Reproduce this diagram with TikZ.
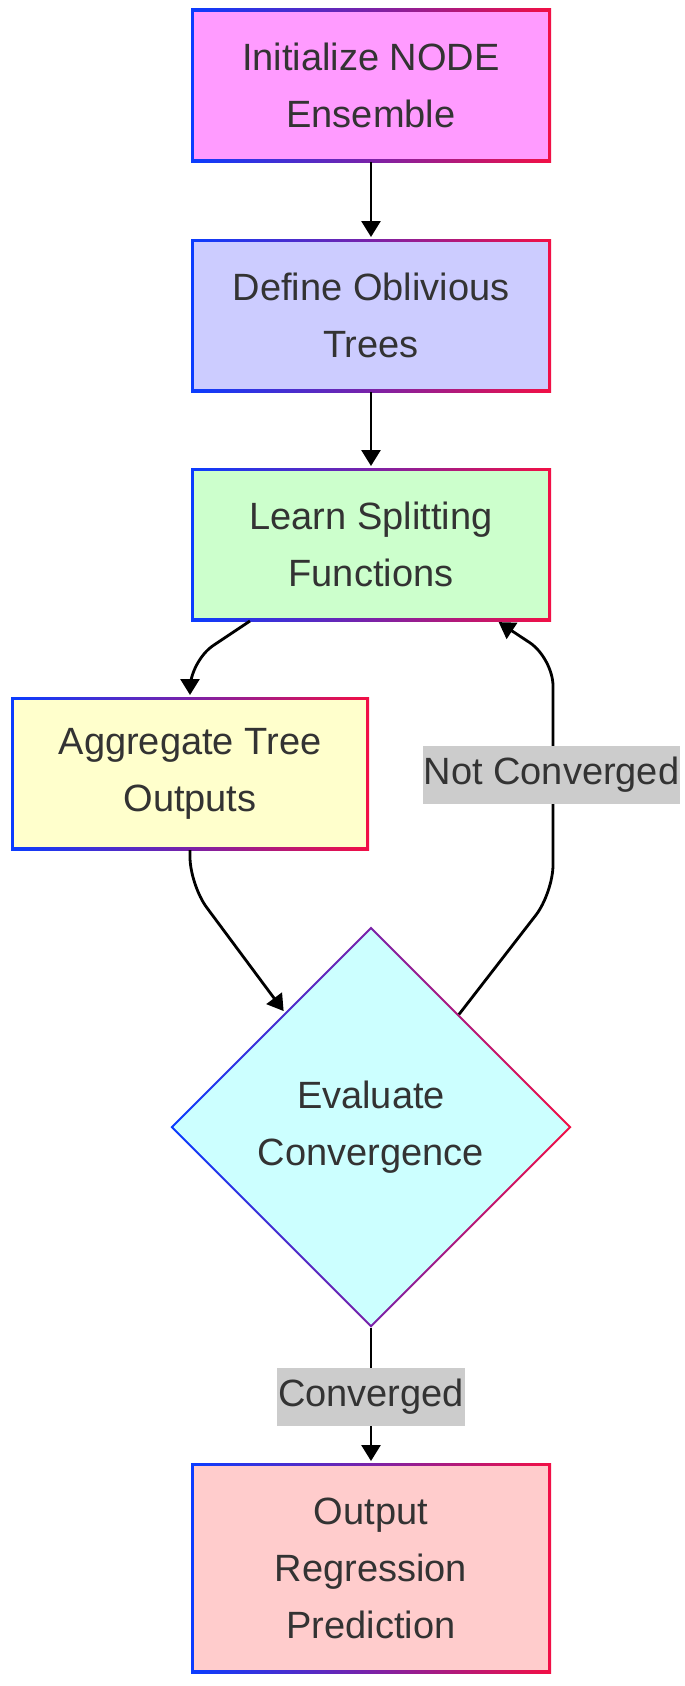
\documentclass[tikz,border=0pt]{standalone}
\usepackage{fontspec}
\setmainfont{Liberation Sans}
\usetikzlibrary{shapes.geometric,arrows.meta}
\definecolor{txt}{HTML}{333333}
\definecolor{gblue}{HTML}{0A3CFF}
\definecolor{gpurp}{HTML}{7A22A8}
\definecolor{gred}{HTML}{F20F45}
\definecolor{cA}{HTML}{FF9BFF}
\definecolor{cB}{HTML}{CCCCFF}
\definecolor{cC}{HTML}{CCFFCC}
\definecolor{cD}{HTML}{FFFFCC}
\definecolor{cE}{HTML}{CCFFFF}
\definecolor{cF}{HTML}{FFCCCC}
\definecolor{lbl}{HTML}{CCCCCC}
\begin{document}
\begin{tikzpicture}[x=1pt,y=-1pt,
  obox/.style={rectangle, draw=none, inner sep=0pt, outer sep=0pt,
    left color=gblue, right color=gred, middle color=gpurp},
  ibox/.style={rectangle, draw=none, inner sep=0pt, outer sep=0pt,
    align=center, text=txt, font=\fontsize{38}{57}\selectfont},
  odia/.style={diamond, aspect=1, draw=none, inner sep=0pt, outer sep=0pt,
    left color=gblue, right color=gred, middle color=gpurp},
  idia/.style={diamond, aspect=1, draw=none, inner sep=0pt, outer sep=0pt,
    align=center, text=txt, font=\fontsize{38}{57}\selectfont},
  elabel/.style={rectangle, fill=lbl, inner xsep=1pt, inner ysep=0pt,
    minimum height=58pt, text=txt, font=\fontsize{38}{46}\selectfont},
  arr/.style={draw=black, line width=2.8pt, shorten >=2pt,
    -{Triangle[length=16pt,width=19pt]}}
]
\useasboundingbox (0,0) rectangle (685,1686);

% Box 1
\node[obox, minimum width=360pt, minimum height=153pt] (b1) at (371,85.5) {};
\node[ibox, fill=cA, minimum width=354pt, minimum height=147pt] (b1t) at (b1) {Initialize NODE\\Ensemble};
% Box 2
\node[obox, minimum width=360pt, minimum height=153pt] (b2) at (371,315.5) {};
\node[ibox, fill=cB, minimum width=354pt, minimum height=147pt] (b2t) at (b2) {Define Oblivious\\Trees};
% Box 3
\node[obox, minimum width=360pt, minimum height=153pt] (b3) at (371,544.5) {};
\node[ibox, fill=cC, minimum width=354pt, minimum height=147pt] (b3t) at (b3) {Learn Splitting\\Functions};
% Box 4
\node[obox, minimum width=358pt, minimum height=153pt] (b4) at (190,773.5) {};
\node[ibox, fill=cD, minimum width=352pt, minimum height=147pt] (b4t) at (b4) {Aggregate Tree\\Outputs};
% Diamond
\node[odia, minimum width=401pt, minimum height=401pt] (d) at (371,1127) {};
\node[idia, fill=cE, minimum width=395pt, minimum height=395pt] (dt) at (d) {Evaluate\\Convergence};
% Box 5
\node[obox, minimum width=360pt, minimum height=210pt] (b5) at (371,1568) {};
\node[ibox, fill=cF, minimum width=354pt, minimum height=204pt] (b5t) at (b5) {Output\\Regression\\Prediction};

% Connectors
\draw[arr] (b1.south) -- (b2.north);
\draw[arr] (b2.south) -- (b3.north);
\draw[arr, rounded corners=28pt] ([xshift=59pt]b3.south west) -- (190,661) -- (b4.north);
\draw[arr, rounded corners=28pt] (b4.south) -- (190,885) -- (d.127);
\draw[arr, rounded corners=28pt] (d.52) -- (553,893) -- (553,658) -- ([xshift=-54pt]b3.south east);
\draw[arr] (d.south) -- (b5.north);

% Edge labels
\node[elabel] (lnc) at (551.5,774.5) {Not Converged};
\node[elabel] (lc) at (371,1396.5) {Converged};
\end{tikzpicture}
\end{document}
